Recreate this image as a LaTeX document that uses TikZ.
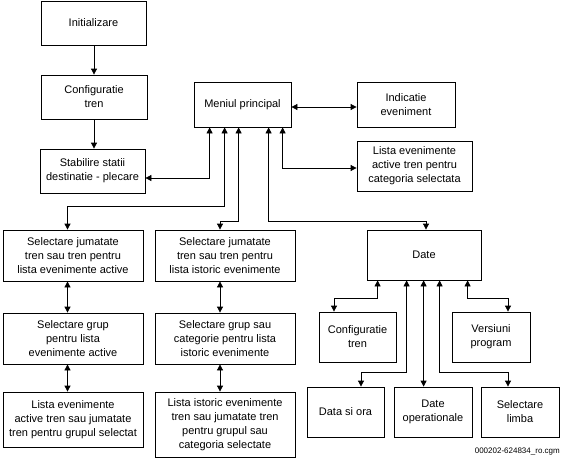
\documentclass[tikz,border=0pt]{standalone}
\usepackage{fontspec}
\setmainfont{Liberation Sans}
\usetikzlibrary{arrows.meta}
\begin{document}
\begin{tikzpicture}[x=1pt,y=-1pt,
  box/.style={draw,line width=0.8pt,align=center,inner sep=1pt,
    font=\fontsize{11}{14}\selectfont},
  arr/.style={line width=0.8pt,-{Triangle[length=6pt,width=6pt]}},
  dbl/.style={line width=0.8pt,{Triangle[length=6pt,width=6pt]}-{Triangle[length=6pt,width=6pt]}}]
\useasboundingbox (0,0) rectangle (562,458);
% boxes
\node[box,minimum width=105pt,minimum height=44pt] (init) at (93.5,23) {Initializare};
\node[box,minimum width=106pt,minimum height=44pt] (config) at (94,97) {Configuratie\\tren};
\node[box,minimum width=105pt,minimum height=44pt] (stab) at (92.5,171) {Stabilire statii\\destinatie - plecare};
\node[box,minimum width=97pt,minimum height=45pt] (meniu) at (242.5,104.5) {Meniul principal};
\node[box,minimum width=98pt,minimum height=45pt] (indic) at (406,104.5) {Indicatie\\eveniment};
\node[box,minimum width=115pt,minimum height=50pt] (listaact) at (414.5,166) {Lista evenimente\\active tren pentru\\categoria selectata};
\node[box,minimum width=140pt,minimum height=51pt] (A1) at (73,255.5) {Selectare jumatate\\tren sau tren pentru\\lista evenimente active};
\node[box,minimum width=140pt,minimum height=51pt] (B1) at (225,255.5) {Selectare jumatate\\tren sau tren pentru\\lista istoric evenimente};
\node[box,minimum width=114pt,minimum height=50pt] (date) at (424,255) {Date};
\node[box,minimum width=140pt,minimum height=51pt] (A2) at (73,338.5) {Selectare grup\\pentru lista\\evenimente active};
\node[box,minimum width=140pt,minimum height=51pt] (B2) at (225,338.5) {Selectare grup sau\\categorie pentru lista\\istoric evenimente};
\node[box,minimum width=77pt,minimum height=50pt] (cfg2) at (357.5,337) {Configuratie\\tren};
\node[box,minimum width=78pt,minimum height=50pt] (vers) at (491,337) {Versiuni\\program};
\node[box,minimum width=140pt,minimum height=55pt] (A3) at (73,419.5) {Lista evenimente\\active tren sau jumatate\\tren pentru grupul selectat};
\node[box,minimum width=140pt,minimum height=65pt] (B3) at (225,424.5) {Lista istoric evenimente\\tren sau jumatate tren\\pentru grupul sau\\categoria selectate};
\node[box,minimum width=77pt,minimum height=50pt] (dataora) at (345.5,412) {Data si ora};
\node[box,minimum width=78pt,minimum height=50pt] (dateop) at (433,412) {Date\\operationale};
\node[box,minimum width=78pt,minimum height=50pt] (limba) at (520,412) {Selectare\\limba};
\node[anchor=base east,inner sep=0pt,font=\fontsize{8}{10}\selectfont] (lbl) at (560,453) {000202-624834\_ro.cgm};
% junction coordinates
\coordinate (jA) at (67.5,206);
\coordinate (jB) at (220,221);
\coordinate (jD) at (426,221);
\coordinate (jC) at (334,298);
\coordinate (jO) at (361,372);
\coordinate (jL) at (508,372);
\coordinate (jV) at (508,298);
% connectors
\draw[arr] (init.south -| config.south) -- (config.north);
\draw[arr] (config.south) -- (config.south |- stab.north);
\draw[dbl] ([xshift=16pt]meniu.south west) |- ([yshift=-7pt]stab.east);
\draw[dbl] ([yshift=-2.5pt]meniu.east) -- ([yshift=-2.5pt]indic.west);
\draw[dbl] ([xshift=89pt]meniu.south west) |- ([yshift=-2pt]listaact.west);
\draw[dbl] ([xshift=31pt]meniu.south west) |- (jA) -- (jA |- A1.north);
\draw[dbl] ([xshift=45pt]meniu.south west) |- (jB) -- (jB |- B1.north);
\draw[dbl] ([xshift=75pt]meniu.south west) |- (jD) -- (jD |- date.north);
\draw[dbl] (jA |- A1.south) -- (jA |- A2.north);
\draw[dbl] (jA |- A2.south) -- (jA |- A3.north);
\draw[dbl] (jB |- B1.south) -- (jB |- B2.north);
\draw[dbl] (jB |- B2.south) -- (jB |- B3.north);
\draw[dbl] ([xshift=11pt]date.south west) |- (jC) -- (jC |- cfg2.north);
\draw[dbl] ([xshift=40pt]date.south west) |- (jO) -- (jO |- dataora.north);
\draw[dbl] ([xshift=57pt]date.south west) -- ([xshift=57pt]date.south west |- dateop.north);
\draw[dbl] ([xshift=73pt]date.south west) |- (jL) -- (jL |- limba.north);
\draw[dbl] ([xshift=101pt]date.south west) |- (jV) -- (jV |- vers.north);
\end{tikzpicture}
\end{document}
